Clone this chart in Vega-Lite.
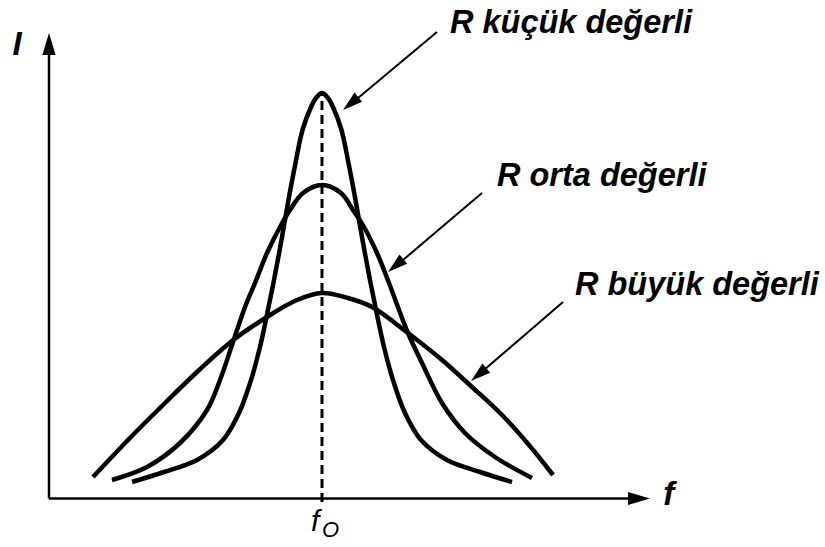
{
  "$schema": "https://vega.github.io/schema/vega-lite/v6.json",
  "width": 825,
  "height": 547,
  "autosize": {"type": "none"},
  "padding": 0,
  "background": "white",
  "config": {"view": {"stroke": null}},
  "datasets": {
    "curves": [
      {"series": "R küçük", "f": 1.520, "I": 0.4125},
      {"series": "R küçük", "f": 2.106, "I": 0.6625},
      {"series": "R küçük", "f": 2.711, "I": 0.9625},
      {"series": "R küçük", "f": 3.187, "I": 1.4625},
      {"series": "R küçük", "f": 3.480, "I": 2.1375},
      {"series": "R küçük", "f": 3.700, "I": 2.9625},
      {"series": "R küçük", "f": 3.864, "I": 3.7875},
      {"series": "R küçük", "f": 3.984, "I": 4.5375},
      {"series": "R küçük", "f": 4.121, "I": 5.4625},
      {"series": "R küçük", "f": 4.258, "I": 6.4625},
      {"series": "R küçük", "f": 4.386, "I": 7.4625},
      {"series": "R küçük", "f": 4.515, "I": 8.3875},
      {"series": "R küçük", "f": 4.643, "I": 9.2125},
      {"series": "R küçük", "f": 4.799, "I": 9.7875},
      {"series": "R küçük", "f": 4.890, "I": 10.0125},
      {"series": "R küçük", "f": 5.000, "I": 10.1375},
      {"series": "R küçük", "f": 5.110, "I": 10.0125},
      {"series": "R küçük", "f": 5.201, "I": 9.7875},
      {"series": "R küçük", "f": 5.357, "I": 9.2125},
      {"series": "R küçük", "f": 5.485, "I": 8.3875},
      {"series": "R küçük", "f": 5.614, "I": 7.4625},
      {"series": "R küçük", "f": 5.742, "I": 6.4625},
      {"series": "R küçük", "f": 5.879, "I": 5.4625},
      {"series": "R küçük", "f": 6.016, "I": 4.5375},
      {"series": "R küçük", "f": 6.136, "I": 3.7875},
      {"series": "R küçük", "f": 6.300, "I": 2.9625},
      {"series": "R küçük", "f": 6.520, "I": 2.1375},
      {"series": "R küçük", "f": 6.813, "I": 1.4625},
      {"series": "R küçük", "f": 7.289, "I": 0.9625},
      {"series": "R küçük", "f": 7.894, "I": 0.6625},
      {"series": "R küçük", "f": 8.480, "I": 0.4125},
      {"series": "R orta", "f": 1.154, "I": 0.4625},
      {"series": "R orta", "f": 1.795, "I": 0.7875},
      {"series": "R orta", "f": 2.399, "I": 1.3875},
      {"series": "R orta", "f": 2.894, "I": 2.2125},
      {"series": "R orta", "f": 3.132, "I": 2.9625},
      {"series": "R orta", "f": 3.370, "I": 3.9125},
      {"series": "R orta", "f": 3.590, "I": 4.7875},
      {"series": "R orta", "f": 3.773, "I": 5.3875},
      {"series": "R orta", "f": 3.993, "I": 6.1375},
      {"series": "R orta", "f": 4.231, "I": 6.7875},
      {"series": "R orta", "f": 4.414, "I": 7.2125},
      {"series": "R orta", "f": 4.652, "I": 7.6375},
      {"series": "R orta", "f": 5.000, "I": 7.8375},
      {"series": "R orta", "f": 5.348, "I": 7.6375},
      {"series": "R orta", "f": 5.568, "I": 7.2125},
      {"series": "R orta", "f": 5.769, "I": 6.7875},
      {"series": "R orta", "f": 6.007, "I": 6.1375},
      {"series": "R orta", "f": 6.227, "I": 5.3875},
      {"series": "R orta", "f": 6.575, "I": 4.1375},
      {"series": "R orta", "f": 6.832, "I": 3.3875},
      {"series": "R orta", "f": 7.198, "I": 2.3875},
      {"series": "R orta", "f": 7.619, "I": 1.6375},
      {"series": "R orta", "f": 8.168, "I": 1.0375},
      {"series": "R orta", "f": 8.846, "I": 0.5125},
      {"series": "R büyük", "f": 0.806, "I": 0.5375},
      {"series": "R büyük", "f": 1.447, "I": 1.4625},
      {"series": "R büyük", "f": 2.088, "I": 2.3375},
      {"series": "R büyük", "f": 2.711, "I": 3.1625},
      {"series": "R büyük", "f": 3.352, "I": 3.9375},
      {"series": "R büyük", "f": 3.993, "I": 4.5375},
      {"series": "R büyük", "f": 4.542, "I": 4.9625},
      {"series": "R büyük", "f": 5.000, "I": 5.1375},
      {"series": "R büyük", "f": 5.476, "I": 5.0125},
      {"series": "R büyük", "f": 5.916, "I": 4.7875},
      {"series": "R büyük", "f": 6.575, "I": 4.1375},
      {"series": "R büyük", "f": 7.198, "I": 3.4625},
      {"series": "R büyük", "f": 7.747, "I": 2.7875},
      {"series": "R büyük", "f": 8.297, "I": 2.0875},
      {"series": "R büyük", "f": 8.791, "I": 1.3375},
      {"series": "R büyük", "f": 9.231, "I": 0.5875}
    ],
    "pointers": [
      {"target": "R küçük", "f1": 7.106, "I1": 11.6625, "fb": 5.611, "Ib": 9.955, "ft": 5.385, "It": 9.7125},
      {"target": "R orta", "f1": 7.930, "I1": 7.6375, "fb": 6.434, "Ib": 5.905, "ft": 6.209, "It": 5.6625},
      {"target": "R büyük", "f1": 9.414, "I1": 4.9125, "fb": 7.951, "Ib": 3.1925, "ft": 7.729, "It": 2.9375}
    ],
    "axes": [
      {"axis": "f", "f1": 0, "I1": 0, "fb": 10.678, "Ib": 0, "ft": 11.007, "It": 0},
      {"axis": "I", "f1": 0, "I1": 0, "fb": 0, "Ib": 11.1875, "ft": 0, "It": 11.6375}
    ],
    "labels": [
      {"txt": "R küçük değerli", "f": 7.344, "I": 11.6375},
      {"txt": "R orta değerli", "f": 8.205, "I": 7.8125},
      {"txt": "R büyük değerli", "f": 9.634, "I": 5.0875}
    ]
  },
  "layer": [
    {
      "data": {"name": "curves"},
      "mark": {"type": "line", "interpolate": "catmull-rom", "strokeWidth": 4.5, "color": "black", "strokeCap": "butt", "strokeJoin": "round"},
      "encoding": {
        "x": {"field": "f", "type": "quantitative", "scale": {"domain": [-0.8974, 14.2125], "nice": false, "zero": false}, "axis": null},
        "y": {"field": "I", "type": "quantitative", "scale": {"domain": [-1.2125, 12.4625], "nice": false, "zero": false}, "axis": null},
        "detail": {"field": "series", "type": "nominal"}
      }
    },
    {
      "data": {"values": [{"f": 5.0, "I1": -0.09, "I2": 10.1375}]},
      "mark": {"type": "rule", "color": "black", "strokeWidth": 3, "strokeDash": [9, 5]},
      "encoding": {
        "x": {"field": "f", "type": "quantitative", "scale": {"domain": [-0.8974, 14.2125], "nice": false, "zero": false}, "axis": null},
        "y": {"field": "I1", "type": "quantitative", "scale": {"domain": [-1.2125, 12.4625], "nice": false, "zero": false}, "axis": null},
        "y2": {"field": "I2"}
      }
    },
    {
      "data": {"name": "axes"},
      "mark": {"type": "rule", "color": "black", "strokeWidth": 2.5},
      "encoding": {
        "x": {"field": "f1", "type": "quantitative", "scale": {"domain": [-0.8974, 14.2125], "nice": false, "zero": false}, "axis": null},
        "y": {"field": "I1", "type": "quantitative", "scale": {"domain": [-1.2125, 12.4625], "nice": false, "zero": false}, "axis": null},
        "x2": {"field": "fb"},
        "y2": {"field": "Ib"}
      }
    },
    {
      "data": {"name": "pointers"},
      "mark": {"type": "rule", "color": "black", "strokeWidth": 2},
      "encoding": {
        "x": {"field": "f1", "type": "quantitative", "scale": {"domain": [-0.8974, 14.2125], "nice": false, "zero": false}, "axis": null},
        "y": {"field": "I1", "type": "quantitative", "scale": {"domain": [-1.2125, 12.4625], "nice": false, "zero": false}, "axis": null},
        "x2": {"field": "fb"},
        "y2": {"field": "Ib"}
      }
    },
    {
      "data": {"name": "pointers"},
      "mark": {"type": "point", "shape": "M0,0L-0.6,2L0.6,2Z", "size": 400, "angle": 230, "filled": true, "color": "black", "opacity": 1, "strokeWidth": 0},
      "encoding": {
        "x": {"field": "ft", "type": "quantitative", "scale": {"domain": [-0.8974, 14.2125], "nice": false, "zero": false}, "axis": null},
        "y": {"field": "It", "type": "quantitative", "scale": {"domain": [-1.2125, 12.4625], "nice": false, "zero": false}, "axis": null}
      }
    },
    {
      "data": {"name": "axes"},
      "transform": [{"filter": "datum.axis === 'f'"}],
      "mark": {"type": "point", "shape": "M0,0L-0.6,2L0.6,2Z", "size": 484, "angle": 90, "filled": true, "color": "black", "opacity": 1, "strokeWidth": 0},
      "encoding": {
        "x": {"field": "ft", "type": "quantitative", "scale": {"domain": [-0.8974, 14.2125], "nice": false, "zero": false}, "axis": null},
        "y": {"field": "It", "type": "quantitative", "scale": {"domain": [-1.2125, 12.4625], "nice": false, "zero": false}, "axis": null}
      }
    },
    {
      "data": {"name": "axes"},
      "transform": [{"filter": "datum.axis === 'I'"}],
      "mark": {"type": "point", "shape": "M0,0L-0.6,2L0.6,2Z", "size": 484, "angle": 0, "filled": true, "color": "black", "opacity": 1, "strokeWidth": 0},
      "encoding": {
        "x": {"field": "ft", "type": "quantitative", "scale": {"domain": [-0.8974, 14.2125], "nice": false, "zero": false}, "axis": null},
        "y": {"field": "It", "type": "quantitative", "scale": {"domain": [-1.2125, 12.4625], "nice": false, "zero": false}, "axis": null}
      }
    },
    {
      "data": {"name": "labels"},
      "mark": {"type": "text", "align": "left", "baseline": "alphabetic", "font": "Liberation Sans", "fontStyle": "italic", "fontWeight": "bold", "fontSize": 32.5, "color": "black"},
      "encoding": {
        "x": {"field": "f", "type": "quantitative", "scale": {"domain": [-0.8974, 14.2125], "nice": false, "zero": false}, "axis": null},
        "y": {"field": "I", "type": "quantitative", "scale": {"domain": [-1.2125, 12.4625], "nice": false, "zero": false}, "axis": null},
        "text": {"field": "txt"}
      }
    },
    {
      "data": {"values": [{"txt": "I", "f": -0.586, "I": 11.0875}, {"txt": "f", "f": 11.35, "I": -0.1625}]},
      "mark": {"type": "text", "align": "center", "baseline": "alphabetic", "font": "Liberation Sans", "fontStyle": "italic", "fontWeight": "bold", "fontSize": 33, "color": "black"},
      "encoding": {
        "x": {"field": "f", "type": "quantitative", "scale": {"domain": [-0.8974, 14.2125], "nice": false, "zero": false}, "axis": null},
        "y": {"field": "I", "type": "quantitative", "scale": {"domain": [-1.2125, 12.4625], "nice": false, "zero": false}, "axis": null},
        "text": {"field": "txt"}
      }
    },
    {
      "data": {"values": [{"txt": "f", "f": 4.80, "I": -0.8125}]},
      "mark": {"type": "text", "align": "left", "baseline": "alphabetic", "font": "Liberation Sans", "fontStyle": "italic", "fontSize": 30, "color": "black"},
      "encoding": {
        "x": {"field": "f", "type": "quantitative", "scale": {"domain": [-0.8974, 14.2125], "nice": false, "zero": false}, "axis": null},
        "y": {"field": "I", "type": "quantitative", "scale": {"domain": [-1.2125, 12.4625], "nice": false, "zero": false}, "axis": null},
        "text": {"field": "txt"}
      }
    },
    {
      "data": {"values": [{"txt": "O", "f": 5.0, "I": -0.9625}]},
      "mark": {"type": "text", "align": "left", "baseline": "alphabetic", "font": "Liberation Sans", "fontStyle": "italic", "fontSize": 22, "color": "black"},
      "encoding": {
        "x": {"field": "f", "type": "quantitative", "scale": {"domain": [-0.8974, 14.2125], "nice": false, "zero": false}, "axis": null},
        "y": {"field": "I", "type": "quantitative", "scale": {"domain": [-1.2125, 12.4625], "nice": false, "zero": false}, "axis": null},
        "text": {"field": "txt"}
      }
    }
  ]
}
